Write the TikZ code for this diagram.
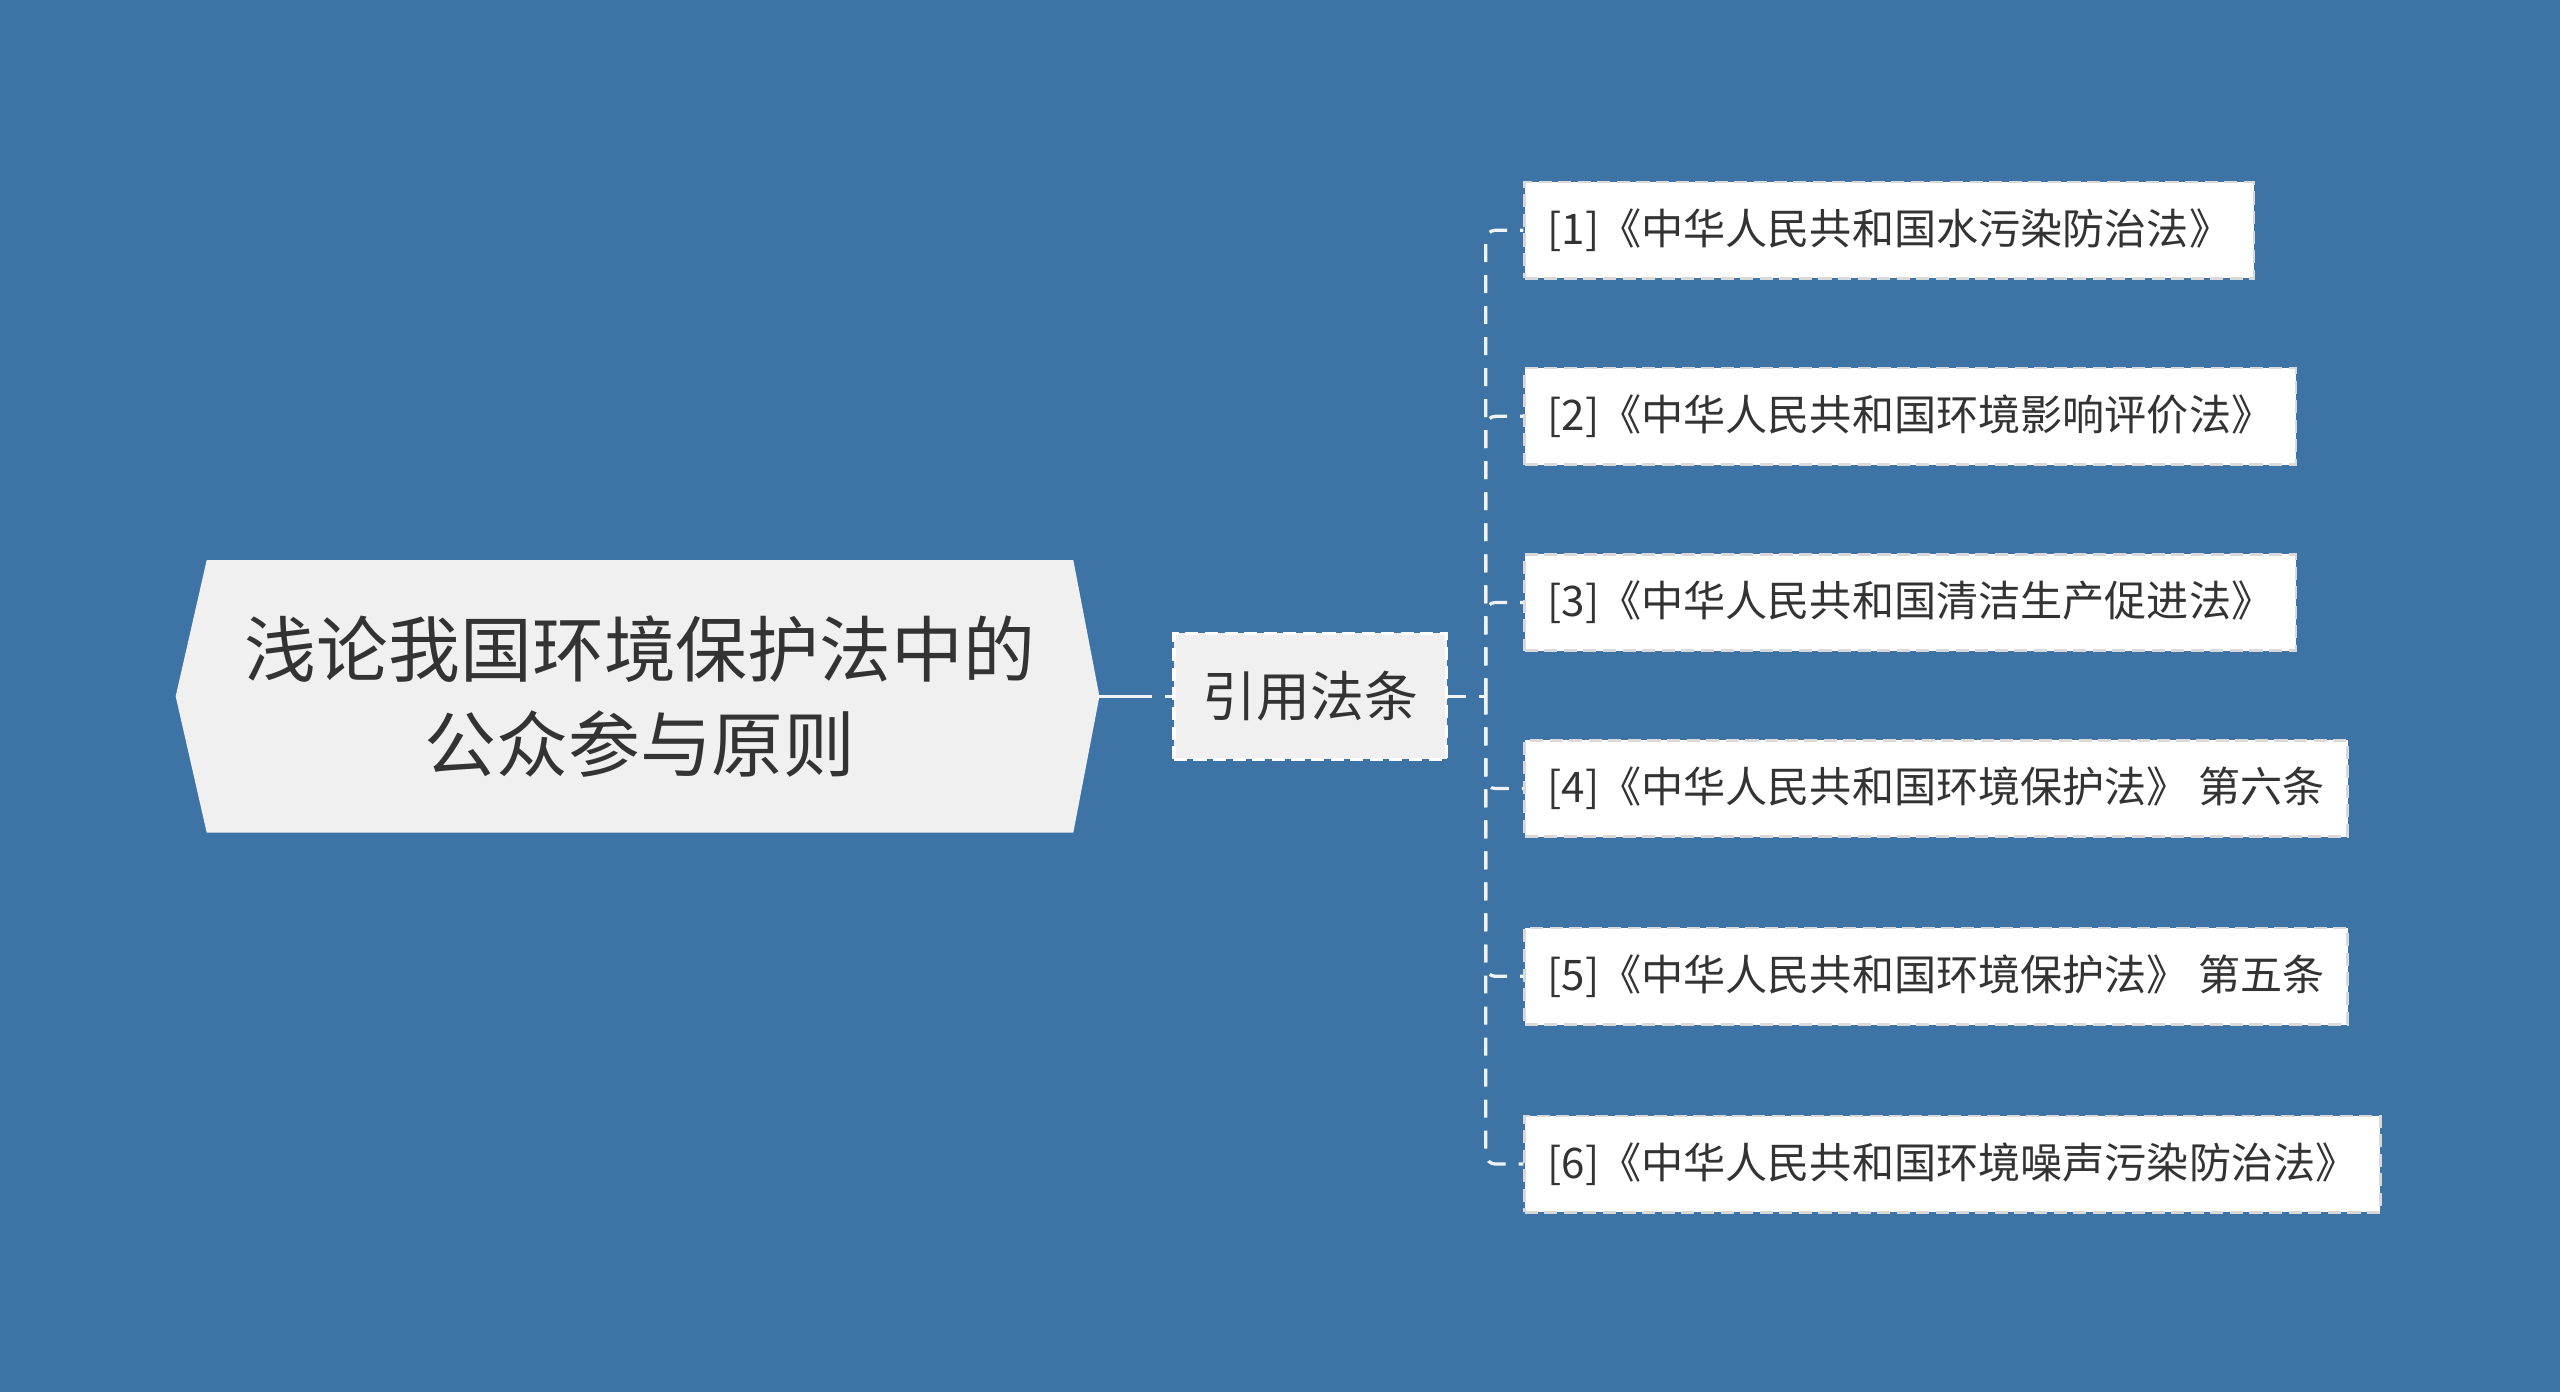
\documentclass[tikz,border=0pt]{standalone}
\usepackage{fontspec}
\setmainfont{Noto Sans CJK SC}
\usetikzlibrary{positioning, calc}
\definecolor{bgblue}{RGB}{62,115,166}
\definecolor{ink}{RGB}{51,51,51}
\definecolor{paper}{RGB}{240,240,240}
\pgfdeclarelayer{back}
\pgfdeclarelayer{plate}
\pgfsetlayers{back,plate,main}
\tikzset{
  topic/.style = {inner sep=0pt, minimum width=265pt, minimum height=83pt, align=center, text=ink, font=\fontsize{22}{29}\selectfont},
  sub/.style = {fill=paper, draw=white, line width=1pt, dash pattern=on 4pt off 2pt, minimum width=83.5pt, minimum height=38.5pt, inner sep=0pt, text=ink, font=\fontsize{16.5}{20}\selectfont},
  leaf/.style = {fill=white, draw=gray!30, line width=0.8pt, dash pattern=on 4pt off 2pt, anchor=west, inner xsep=7pt, minimum height=29.5pt, text=ink, font=\fontsize{12.9}{15}\selectfont},
  link/.style = {draw=white!92!bgblue, line width=1pt, dash pattern=on 5.5pt off 4pt},
}

\begin{document}
\begin{tikzpicture}[x=0.5pt, y=-0.5pt]
\begin{pgfonlayer}{back}
\fill[bgblue] (0,0) rectangle (1568,852.6);
\end{pgfonlayer}
\useasboundingbox (0,0) rectangle (1568,852.6);
% root topic
\node[topic] (root) at (392,426.5) {浅论我国环境保护法中的\\公众参与原则};
\begin{pgfonlayer}{plate}
\fill[paper] (root.north west) -- (root.north east) -- ([xshift=8pt]root.east) -- (root.south east)
  -- (root.south west) -- ([xshift=-9.5pt]root.west) -- cycle;
\end{pgfonlayer}
\coordinate (tip) at ([xshift=8pt]root.east);
\node[sub] (cite) at (802.5,426.5) {引用法条};
\draw[link, dash pattern=on 16pt off 4pt] (tip) -- (cite.west);
\coordinate (fork) at (910,426.5);
\draw[link] (cite.east) -- (fork);
% references
\foreach \i/\y/\t in {1/141/{[1]《中华人民共和国水污染防治法》},
                      2/255/{[2]《中华人民共和国环境影响评价法》},
                      3/369/{[3]《中华人民共和国清洁生产促进法》},
                      4/483/{[4]《中华人民共和国环境保护法》 第六条},
                      5/598/{[5]《中华人民共和国环境保护法》 第五条},
                      6/713/{[6]《中华人民共和国环境噪声污染防治法》}}{
  \node[leaf] (ref\i) at (933,\y) {\t};
  \draw[link, rounded corners=3pt] (fork) |- (ref\i.west);
}
\end{tikzpicture}
\end{document}
